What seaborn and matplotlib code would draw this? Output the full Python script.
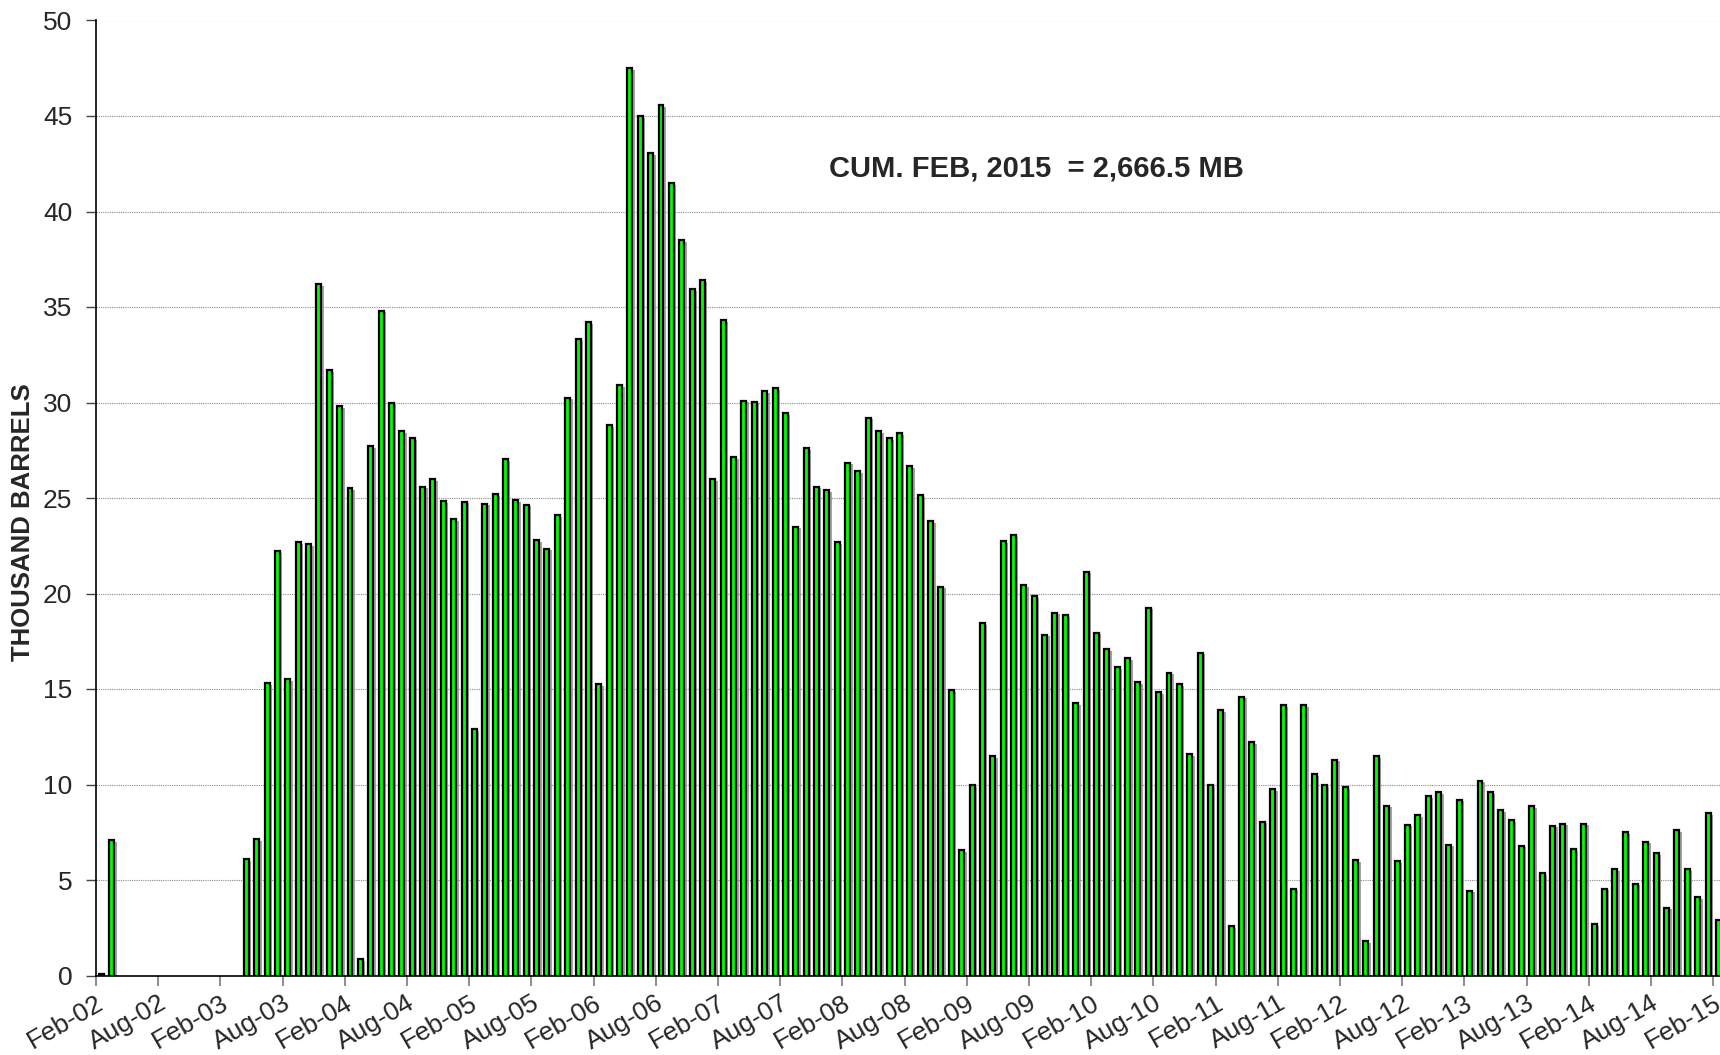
import pandas as pd
import seaborn as sns
import matplotlib.pyplot as plt
import matplotlib.patheffects as pe

# Monthly production, Feb-2002 .. Feb-2015 (thousand barrels)
start_month = '2002-02-01'
production = [
    0.1, 7.1, 0, 0, 0, 0, 0, 0, 0, 0, 0, 0, 0, 0,
    6.1, 7.15, 15.3, 22.2, 15.5, 22.7, 22.6, 36.2, 31.7, 29.8, 25.5, 0.85,
    27.7, 34.8, 30.0, 28.5, 28.15, 25.6, 26.0, 24.85, 23.9, 24.8, 12.9, 24.7,
    25.2, 27.05, 24.9, 24.65, 22.8, 22.35, 24.1, 30.25, 33.35, 34.2, 15.25, 28.8,
    30.9, 47.5, 45.0, 43.05, 45.55, 41.5, 38.5, 35.95, 36.4, 26.0, 34.3, 27.15,
    30.1, 30.05, 30.6, 30.75, 29.45, 23.5, 27.6, 25.6, 25.4, 22.7, 26.85, 26.4,
    29.2, 28.5, 28.15, 28.4, 26.65, 25.15, 23.8, 20.35, 14.95, 6.55, 9.95, 18.45,
    11.5, 22.75, 23.05, 20.45, 19.85, 17.85, 19.0, 18.85, 14.25, 21.15, 17.95, 17.1,
    16.15, 16.6, 15.35, 19.25, 14.85, 15.85, 15.25, 11.6, 16.9, 9.95, 13.9, 2.6,
    14.6, 12.2, 8.05, 9.75, 14.15, 4.55, 14.15, 10.55, 9.95, 11.3, 9.85, 6.05,
    1.8, 11.5, 8.9, 6.0, 7.9, 8.4, 9.4, 9.6, 6.85, 9.2, 4.45, 10.2,
    9.6, 8.65, 8.15, 6.8, 8.85, 5.35, 7.85, 7.95, 6.6, 7.95, 2.7, 4.55,
    5.55, 7.5, 4.8, 7.0, 6.4, 3.55, 7.6, 5.55, 4.1, 8.5, 2.9,
]
tick_step = 6  # label every six months
annotation = 'CUM. FEB, 2015  = 2,666.5 MB'

months = pd.date_range(start_month, periods=len(production), freq='MS')
df = pd.DataFrame({'month': months.strftime('%b-%y'), 'kbbl': production})

sns.set_style('white')
plt.rcParams['font.family'] = ['Liberation Sans', 'DejaVu Sans']

fig = plt.figure(figsize=(17.2, 10.55), dpi=100)
ax = fig.add_axes([96 / 1720, 79.5 / 1055, 1624 / 1720, 955 / 1055])

sns.barplot(data=df, x='month', y='kbbl', color='#00FF00', saturation=1,
            edgecolor='black', linewidth=1.6, width=0.48, ax=ax)

# Excel-like drop shadow on the bars; empty months draw nothing
for bar in ax.patches:
    if bar.get_height() == 0:
        bar.set_visible(False)
        continue
    bar.set_path_effects([pe.SimplePatchShadow(offset=(1.8, -1.2), shadow_rgbFace='#8c8c8c', alpha=0.8),
                          pe.Normal()])

ax.set_ylim(0, 50)
ax.set_yticks(range(0, 51, 5))
ax.set_xlim(-0.5, 156.15)

# ticks sit on month boundaries
tick_idx = list(range(0, len(production), tick_step))
ax.set_xticks([i - 0.5 for i in tick_idx])
ax.set_xticklabels(df['month'].iloc[tick_idx], rotation=30, ha='right',
                   va='top', rotation_mode='anchor')

ax.yaxis.grid(True, linestyle=(0, (1, 1)), color='#8a8a8a', linewidth=0.8)
ax.xaxis.grid(False)
ax.set_axisbelow(True)

for side in ['top', 'right']:
    ax.spines[side].set_visible(False)
for side in ['left', 'bottom']:
    ax.spines[side].set_color('black')
    ax.spines[side].set_linewidth(1.2)

ax.tick_params(axis='y', left=True, length=7, width=1, color='#444444', pad=10, labelsize=19)
ax.tick_params(axis='x', bottom=True, length=7, width=1.5, color='#909090', pad=4, labelsize=19)

ax.set_xlabel('')
ax.set_ylabel('')
fig.text(23 / 1720, 1 - 522 / 1055, 'THOUSAND BARRELS', rotation=90, ha='center',
         va='center', fontsize=18.5, fontweight='bold')

ax.text(0.579, 0.8455, annotation, transform=ax.transAxes, ha='center', va='center',
        fontsize=21, fontweight='bold')

fig.savefig('out.png', dpi=100)
